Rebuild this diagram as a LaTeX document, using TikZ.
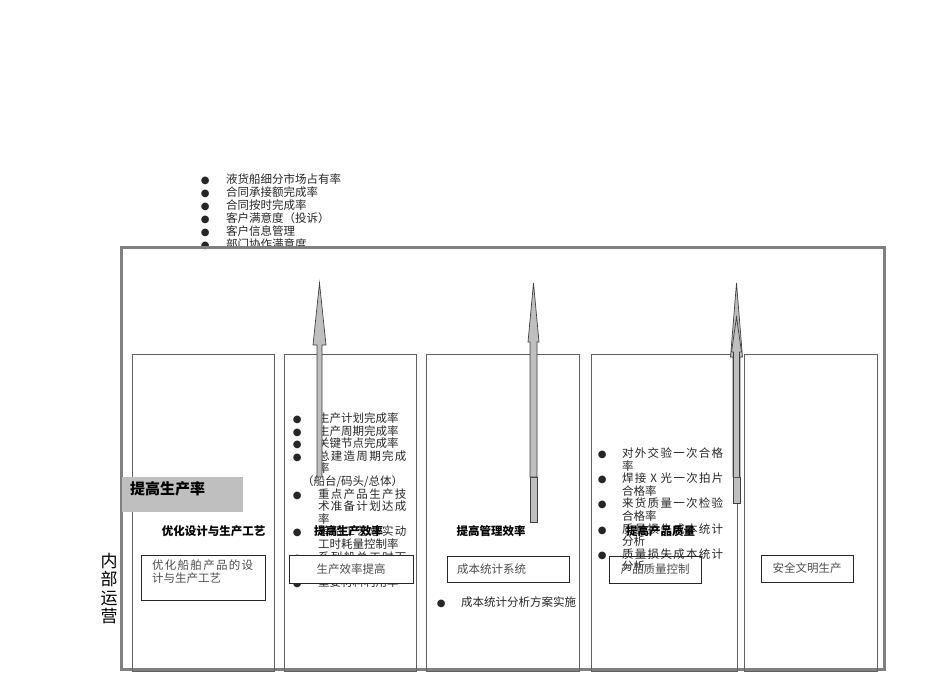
\documentclass[tikz,border=0pt]{standalone}
\usepackage{fontspec}
\setmainfont{Noto Sans CJK SC}
\newfontfamily\dotfont{DejaVu Sans}
\usetikzlibrary{positioning}
\newcommand{\bul}{\makebox[0pt]{\dotfont\fontsize{10}{10}\selectfont ●}}
\newcommand{\spread}[1]{{\addfontfeature{LetterSpace=11}#1}}

\begin{document}
\begin{tikzpicture}[x=1pt, y=-1pt,
    outerframe/.style={draw=gray, line width=3pt},
    column/.style={draw=gray!75!black, line width=1pt},
    textbox/.style={draw=black!85, line width=0.9pt, inner sep=0pt, font=\fontsize{11.5}{13}\selectfont, text=black!70},
    heading/.style={inner sep=0pt, font=\fontsize{11.5}{13}\selectfont\bfseries},
    bulletlist/.style={inner sep=0pt, anchor=base west, text=black!85},
    blockarrow/.style={fill=gray!50, draw=black!75, line width=0.7pt}]
  \useasboundingbox (0,0) rectangle (950,672);

  % indicators above the frame
  \node[bulletlist, font=\fontsize{11.5}{13}\selectfont] (marketlist) at (205,183.4) {\begin{tabular}[t]{@{}l@{\hspace{21pt}}l@{}}
    \bul & \smash{液货船细分市场占有率}\\
    \bul & \smash{合同承接额完成率}\\
    \bul & \smash{合同按时完成率}\\
    \bul & \smash{客户满意度（投诉）}\\
    \bul & \smash{客户信息管理}\\
    \bul & \smash{部门协作满意度}
  \end{tabular}};

  % frame and columns
  \draw[outerframe] (121,247) rectangle (884,669);
  \draw[column] (132,354) rectangle (274,671);
  \draw[column] (284,354) rectangle (416,671);
  \draw[column] (426,354) rectangle (579,671);
  \draw[column] (591,354) rectangle (737,671);
  \draw[column] (744,354) rectangle (877,671);

  \node[font=\fontsize{17}{18.3}\selectfont, align=center, inner sep=0pt] (internal) at (109,588.5) {内\\部\\运\\营};

  % bullet lists
  \node[bulletlist, font=\fontsize{11.5}{12.6}\selectfont] (prodlist) at (297,422.4) {\begin{tabular}[t]{@{}l@{\hspace{21pt}}l@{}}
    \bul & \smash{生产计划完成率}\\
    \bul & \smash{生产周期完成率}\\
    \bul & \smash{关键节点完成率}\\
    \bul & \smash{\spread{总建造周期完成}}\\
         & \smash{率}\\
         & \hspace{-16pt}\smash{（船台/码头/总体）}\\
    \bul & \smash{\spread{重点产品生产技}}\\
         & \smash{\spread{术准备计划达成}}\\
         & \smash{率}\\
    \bul & \smash{\spread{单船工艺总实动}}\\
         & \smash{工时耗量控制率}\\
    \bul & \smash{\spread{系列船总工时下}}\\
         & \smash{降率}\\
    \bul & \smash{重要材料利用率}
  \end{tabular}};
  \node[bulletlist, font=\fontsize{11.5}{12.6}\selectfont] (qualitylist) at (602,457.4) {\begin{tabular}[t]{@{}l@{\hspace{20pt}}l@{}}
    \bul & \smash{\spread{对外交验一次合格}}\\
         & \smash{率}\\
    \bul & \smash{\spread{焊接 X 光一次拍片}}\\
         & \smash{合格率}\\
    \bul & \smash{\spread{来货质量一次检验}}\\
         & \smash{合格率}\\
    \bul & \smash{\spread{质量损失成本统计}}\\
         & \smash{分析}\\
    \bul & \smash{\spread{质量损失成本统计}}\\
         & \smash{分析}
  \end{tabular}};
  \node[bulletlist, font=\fontsize{11.5}{13}\selectfont] (costlist) at (441,606.4) {\begin{tabular}[t]{@{}l@{\hspace{20pt}}l@{}}
    \bul & \smash{成本统计分析方案实施}
  \end{tabular}};

  % block arrows
  \draw[blockarrow] (317,477) -- (317,345) -- (313,345) -- (319.5,283) -- (326,345) -- (322,345) -- (322,477) -- cycle;
  \draw[blockarrow] (530,522) rectangle (537,477);
  \draw[blockarrow] (530,477) -- (530,342) -- (528,342) -- (533.5,283) -- (539,342) -- (537,342) -- (537,477) -- cycle;
  \draw[blockarrow] (733,503) rectangle (740,477);
  \draw[blockarrow] (733,477) -- (733,357) -- (730.5,357) -- (736.5,283) -- (742.5,357) -- (740,357) -- (740,477) -- cycle;
  \draw[blockarrow] (733.5,477) -- (733.5,352) -- (731.5,352) -- (736.5,317) -- (741.5,352) -- (739.5,352) -- (739.5,477);

  % goal label
  \node[fill=gray!50, minimum width=121pt, minimum height=35pt, anchor=north west, inner sep=0pt] (ratebox) at (122,477) {};
  \node[anchor=west, inner sep=0pt, font=\fontsize{15}{15}\selectfont\bfseries] (ratelabel) at (130,489) {提高生产率};

  % headings
  \node[heading] (designhead) at (213.5,531) {优化设计与生产工艺};
  \node[heading] (effhead) at (348.5,531) {提高生产效率};
  \node[heading] (mgmthead) at (491,531) {提高管理效率};
  \node[heading] (qualhead) at (660.5,531) {提高产品质量};

  % boxes
  \node[textbox, anchor=north west, minimum width=124pt, minimum height=45pt] (designbox) at (141,555) {};
  \node[anchor=north west, inner sep=0pt, align=left, font=\fontsize{11.5}{13}\selectfont, text=black!70] (designtext) at (152,559.3) {\spread{优化船舶产品的设}\\计与生产工艺};
  \node[textbox, fill=white, minimum width=124pt, minimum height=28pt] (effbox) at (351,569) {生产效率提高};
  \node[textbox, text width=102pt, inner xsep=10pt, align=left, minimum height=26pt] (costbox) at (508,569) {成本统计系统};
  \node[textbox, minimum width=92pt, minimum height=27pt] (qualbox) at (655,569.5) {产品质量控制};
  \node[textbox, minimum width=92pt, minimum height=27pt] (safebox) at (807,568.5) {安全文明生产};
\end{tikzpicture}
\end{document}
